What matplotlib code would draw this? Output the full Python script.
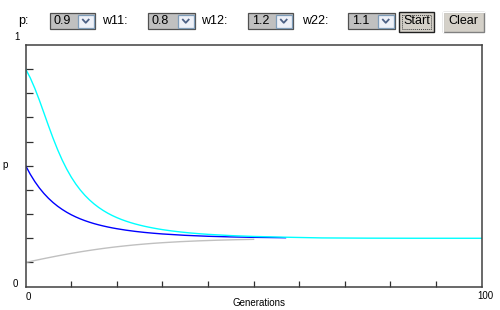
import matplotlib
matplotlib.use("Agg")
import matplotlib.pyplot as plt
from matplotlib.patches import Rectangle

plt.rcParams['font.family'] = ['Liberation Sans', 'DejaVu Sans']

# ---------------- data ----------------
gen_cyan = [0, 1, 2, 3, 4, 5, 6, 7, 8, 9, 10, 11, 12, 13, 14, 15, 16, 17, 18, 19,
            20, 21, 22, 23, 24, 25, 26, 27, 28, 29, 30, 32, 34, 36, 38, 40, 45,
            50, 57, 65, 75, 85, 100]
p_cyan = [0.9, 0.864, 0.8206, 0.7714, 0.7187, 0.6656, 0.6144, 0.5669, 0.5241,
          0.4863, 0.4531, 0.4243, 0.3993, 0.3776, 0.3587, 0.3422, 0.3278, 0.3151,
          0.3039, 0.2941, 0.2855, 0.2778, 0.2710, 0.2649, 0.2594, 0.2545, 0.2500,
          0.2460, 0.2423, 0.2389, 0.2358, 0.2305, 0.2260, 0.2222, 0.2190, 0.2163,
          0.2111, 0.2076, 0.2044, 0.2015, 0.2005, 0.2001, 0.2]

gen_blue = [0, 1, 2, 3, 4, 5, 6, 7, 8, 9, 10, 11, 12, 13, 14, 15, 16, 17, 18, 19,
            20, 22, 24, 26, 28, 30, 35, 40, 45, 50, 57]
p_blue = [0.5, 0.4651, 0.4347, 0.4083, 0.3854, 0.3654, 0.3480, 0.3328, 0.3195,
          0.3077, 0.2973, 0.2882, 0.2801, 0.2729, 0.2665, 0.2607, 0.2556, 0.2510,
          0.2468, 0.2430, 0.2396, 0.2336, 0.2286, 0.2244, 0.2209, 0.2179, 0.2122,
          0.2083, 0.2057, 0.2039, 0.2023]

gen_gray = [0, 1, 2, 3, 4, 5, 6, 7, 8, 9, 10, 11, 12, 13, 14, 15, 16, 17, 18, 19,
            20, 22, 24, 26, 28, 30, 34, 38, 42, 46, 50]
p_gray = [0.1, 0.1040, 0.1080, 0.1120, 0.1159, 0.1197, 0.1234, 0.1271, 0.1306,
          0.1341, 0.1375, 0.1407, 0.1439, 0.1469, 0.1498, 0.1526, 0.1553, 0.1579,
          0.1603, 0.1627, 0.1649, 0.1690, 0.1728, 0.1761, 0.1791, 0.1817, 0.1861,
          0.1894, 0.1920, 0.1940, 0.1956]

x_ticks = [10, 20, 30, 40, 50, 60, 70, 80, 90]
y_ticks = [0.1, 0.2, 0.3, 0.4, 0.5, 0.6, 0.7, 0.8, 0.9]

control_labels = ["p:", "w11:", "w12:", "w22:"]
control_values = ["0.9", "0.8", "1.2", "1.1"]
button_labels = ["Start", "Clear"]

W, H = 500, 310
fig = plt.figure(figsize=(W / 100, H / 100), dpi=100)
fig.patch.set_facecolor('white')

def fx(px):
    return px / W

def fy(py):
    return 1 - py / H

# ---------------- main axes ----------------
ax_l, ax_r, ax_t, ax_b = 25.7, 481.5, 45.0, 286.6
ax = fig.add_axes([fx(ax_l), fy(ax_b), fx(ax_r - ax_l), (ax_b - ax_t) / H])
ax.set_xlim(0, 100)
ax.set_ylim(0, 1)

ax.plot(gen_gray, p_gray, color='#c0c0c0', lw=1.0)
ax.plot(gen_blue, p_blue, color='#0000ff', lw=1.0)
ax.plot(gen_cyan, p_cyan, color='#00ffff', lw=1.0)

ax.set_xticks(x_ticks)
ax.set_yticks(y_ticks)
ax.tick_params(axis='both', direction='in', labelleft=False, labelbottom=False,
               color='#303030', width=0.9)
ax.tick_params(axis='y', length=5)
ax.tick_params(axis='x', length=4)
for s in ax.spines.values():
    s.set_color('#404040')
    s.set_linewidth(1.1)

# axis texts
tfs = 7
fig.text(fx(17), fy(37), "1", fontsize=tfs, ha='center', va='center')
fig.text(fx(15), fy(284), "0", fontsize=tfs, ha='center', va='center')
fig.text(fx(28), fy(297), "0", fontsize=tfs, ha='center', va='center')
fig.text(fx(485), fy(296), "100", fontsize=tfs, ha='center', va='center')
fig.text(fx(5), fy(165), "p", fontsize=tfs, ha='center', va='center')
fig.text(fx(259), fy(303), "Generations", fontsize=tfs, ha='center', va='center')

# ---------------- top controls ----------------
ov = fig.add_axes([0, 0, 1, 1])
ov.set_xlim(0, W)
ov.set_ylim(H, 0)
ov.axis('off')
ov.patch.set_visible(False)

cfs = 9
label_x = [23, 115, 214, 315]
box_x = [(50, 95), (148, 195), (248, 293), (348, 395)]
by0, by1 = 13, 29
for lab, lx, val, (bx0, bx1) in zip(control_labels, label_x, control_values, box_x):
    ov.text(lx, 21, lab, fontsize=cfs, ha='center', va='center')
    ov.add_patch(Rectangle((bx0, by0), bx1 - bx0, by1 - by0, facecolor='#c0c0c0',
                           edgecolor='#505050', lw=0.9))
    ov.text(bx0 + 4, 21.5, val, fontsize=cfs, ha='left', va='center')
    # dropdown button
    ax0 = bx1 - 17
    ov.add_patch(Rectangle((ax0, by0 + 1.5), 15.5, by1 - by0 - 3, facecolor='#eef1f8',
                           edgecolor='#7f9db9', lw=0.9))
    cx, cy = ax0 + 7.75, 21
    ov.plot([cx - 3.5, cx, cx + 3.5], [cy - 2, cy + 1.8, cy - 2], color='#4d6185',
            lw=1.3, solid_capstyle='butt')

# Start button
sx0, sx1 = 399, 434
ov.add_patch(Rectangle((sx0, 11.5), sx1 - sx0, 20, facecolor='#d4d0c8',
                       edgecolor='#202020', lw=1.0))
ov.add_patch(Rectangle((sx0 + 3, 14.5), sx1 - sx0 - 6, 14, facecolor='none',
                       edgecolor='#404040', lw=0.7, ls=(0, (1, 1))))
ov.text((sx0 + sx1) / 2, 21.5, button_labels[0], fontsize=cfs, ha='center', va='center')

# Clear button
cx0, cx1 = 443, 484
ov.add_patch(Rectangle((cx0, 11.5), cx1 - cx0, 20, facecolor='#d4d0c8',
                       edgecolor='#808080', lw=1.0))
ov.plot([cx0, cx0, cx1], [31.5, 11.5, 11.5], color='white', lw=1.0)
ov.text((cx0 + cx1) / 2, 21.5, button_labels[1], fontsize=cfs, ha='center', va='center')

fig.savefig("out.png", dpi=100)
